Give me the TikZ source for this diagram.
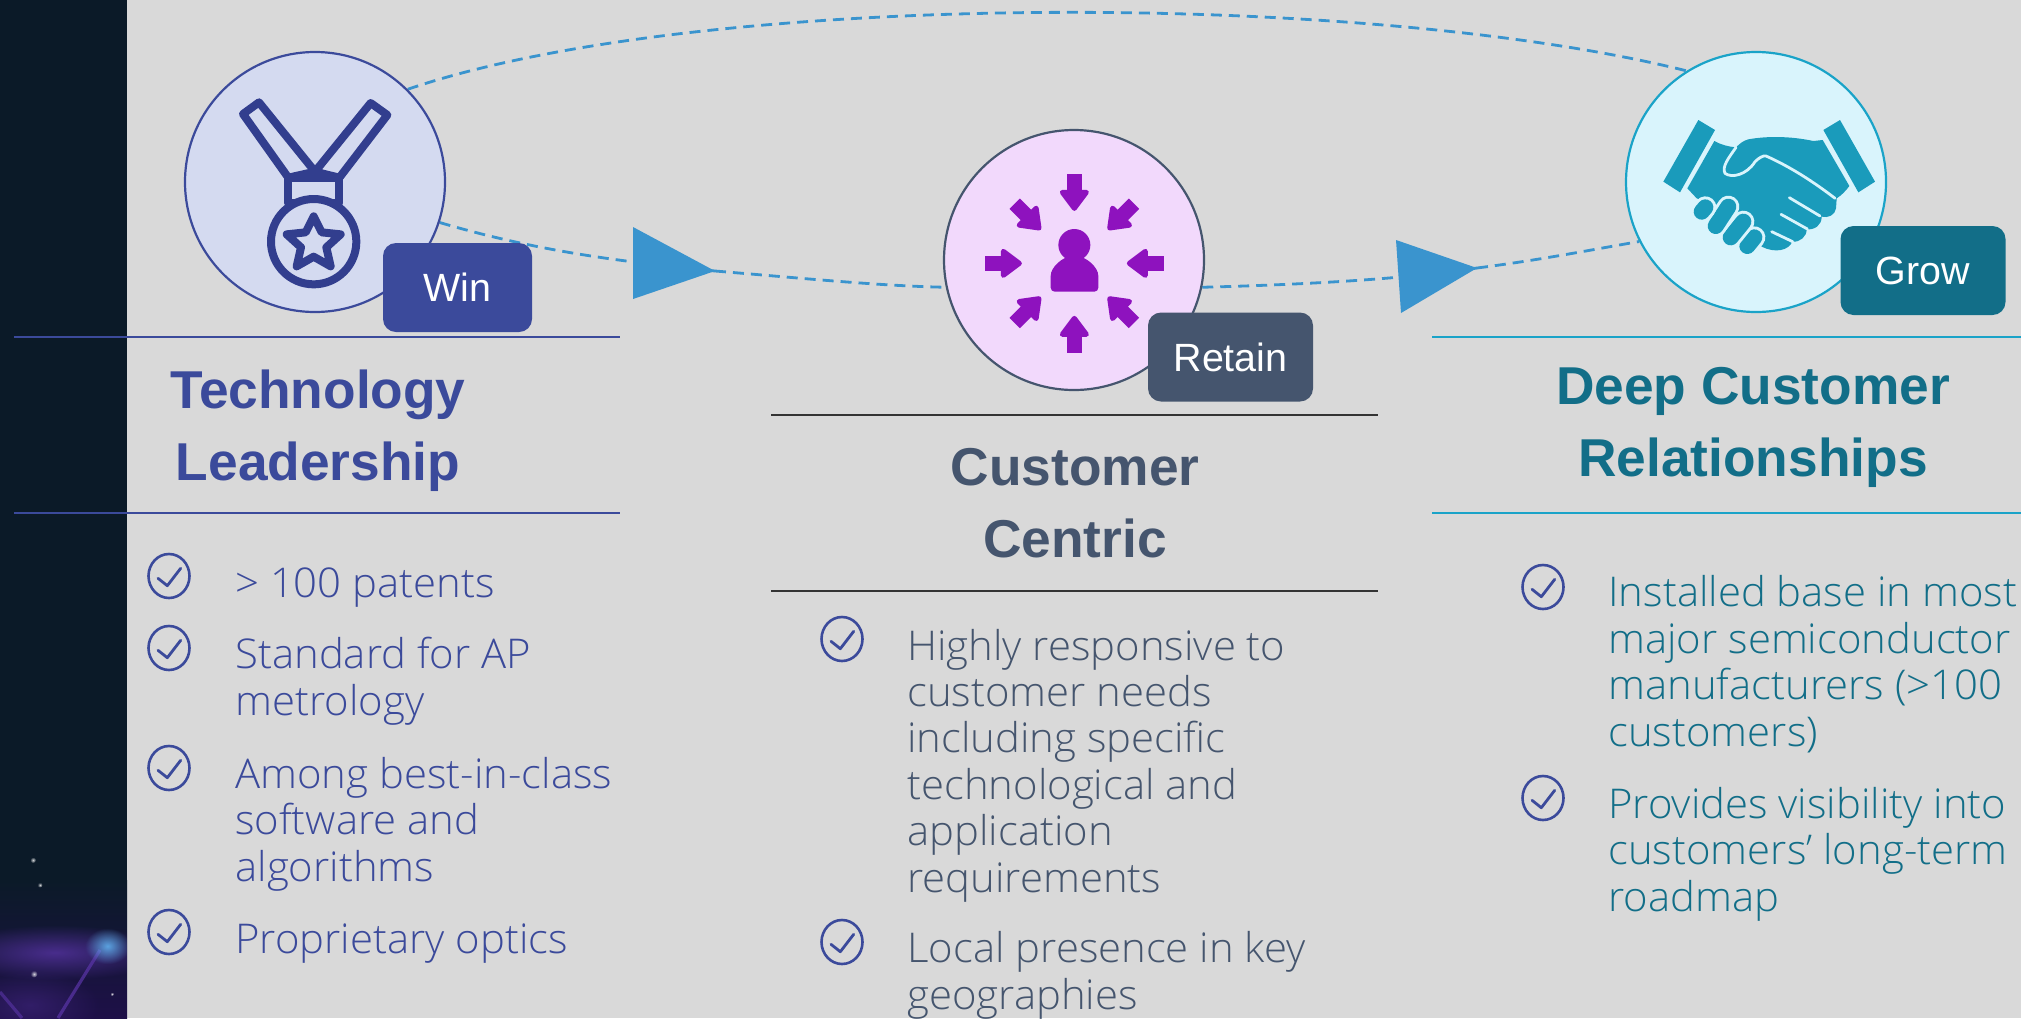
\documentclass[tikz,border=0pt]{standalone}
\usepackage{fontspec}
\setmainfont{Liberation Sans}
\newfontfamily\bodyf{Open Sans Light}[FakeStretch=1.02]
\usetikzlibrary{backgrounds,fadings,shapes.geometric}
\tikzfading[name=softblob,inner color=transparent!0,outer color=transparent!100]
\definecolor{bg}{HTML}{D9D9D9}
\definecolor{side}{HTML}{0B1A28}
\definecolor{winc}{HTML}{3B4A9B}
\definecolor{winf}{HTML}{D4DAF0}
\definecolor{wini}{HTML}{323E8E}
\definecolor{retc}{HTML}{45556E}
\definecolor{retf}{HTML}{F2D9FC}
\definecolor{reti}{HTML}{8E12BE}
\definecolor{groc}{HTML}{126E88}
\definecolor{grof}{HTML}{D9F4FC}
\definecolor{grol}{HTML}{1AA3C8}
\definecolor{groi}{HTML}{1A9BBB}
\definecolor{flow}{HTML}{3A94CE}
\definecolor{neb}{HTML}{5A35A8}
\definecolor{nebd}{HTML}{1E1048}
\tikzset{
 disc/.style={circle,minimum size=130pt,inner sep=0pt,line width=1.1pt},
 badge/.style={rounded corners=6.5pt,inner sep=0pt,minimum height=44.5pt,text=white,font=\fontsize{19.7}{22}\selectfont},
 heading/.style={align=center,inner sep=0pt,anchor=base,font=\bfseries\fontsize{26.65}{36}\selectfont},
 body/.style={align=left,inner sep=0pt,anchor=base west,font=\bodyf\fontsize{20.5}{23.2}\selectfont},
 rule/.style={line width=0.6pt},
 dashline/.style={flow,line width=1.4pt,dash pattern=on 5.5pt off 3.5pt},
 tick/.style={winc,line width=1.4pt,line cap=round,line join=round},
 zoomed/.style={x=0.16667pt,y=-0.16667pt},
}
\newcommand{\tickmark}[3]{%
 \node[draw=winc,line width=1.3pt,ellipse,inner sep=0pt,minimum width=20.5pt,minimum height=22pt] (#1) at (#2,#3) {};
 \draw[tick] (#2-11,#3+2.3) -- (#2-1.7,#3+9.7) -- (#2+11.7,#3-7.7);
}
\begin{document}
\begin{tikzpicture}[x=0.5pt,y=-0.5pt]
\useasboundingbox (0,0) rectangle (2021,1018);
% circles and badges
\node[disc,draw=winc,fill=winf] (c1) at (315,182) {};
\node[disc,draw=retc,fill=retf] (c2) at (1074,260) {};
\node[disc,draw=grol,fill=grof] (c3) at (1756,182) {};
% background layer
\begin{pgfonlayer}{background}
\fill[bg] (0,0) rectangle (2021,1018);
\begin{scope}
\clip (0,0) rectangle (127,1018);
\fill[side] (0,0) rectangle (127,880);
\shade[top color=side,bottom color=nebd] (0,880) rectangle (127,1018);
\fill[neb,path fading=softblob,opacity=.75] (-60,925) rectangle (170,980);
\fill[neb,path fading=softblob,opacity=.35] (-40,970) rectangle (100,1040);
\draw[neb,line width=1.6pt,opacity=.7] (100,950) -- (58,1018);
\draw[neb,line width=1.6pt,opacity=.6] (0,992) -- (22,1018);
\fill[blue!40!cyan!60!white,path fading=softblob,opacity=.8] (85,928) rectangle (130,964);
\foreach \pa/\pb/\pr in {33/860/3,40/885/2.5,34/974/3.5,112/994/2}
  \fill[white,path fading=softblob,opacity=.8] (\pa,\pb) circle[radius=\pr];
\end{scope}
\coordinate (t1a) at (633,227);
\coordinate (t1tip) at (715,271);
\coordinate (t1b) at (633,299);
\coordinate (t2a) at (1396,240);
\coordinate (t2tip) at (1477,268);
\coordinate (t2b) at (1401,313);
\draw[dashline] (c1.45) .. controls (698,-10) and (1362,-10) .. (c3.122);
\draw[dashline] (c1.-18) .. controls (550,255) and (640,263) .. (t1tip);
\draw[dashline] (t1tip) .. controls (800,278) and (880,286) .. (c2.192);
\draw[dashline] (c2.-12) .. controls (1290,285) and (1400,280) .. (t2tip);
\draw[dashline] (t2tip) .. controls (1540,260) and (1590,250) .. (c3.207);
\fill[flow] (t1a) -- (t1tip) -- (t1b) -- cycle;
\fill[flow] (t2a) -- (t2tip) -- (t2b) -- cycle;
\end{pgfonlayer}
\node[badge,fill=winc,minimum width=74.5pt] (b1) at (457.5,287.5) {Win};
\node[badge,fill=retc,minimum width=82.5pt] (b2) at (1230.5,357) {Retain};
\node[badge,fill=groc,minimum width=82.5pt] (b3) at (1923,270.5) {Grow};
% medal icon
\begin{scope}[shift={(130,30)},zoomed,wini,line width=4pt,line join=round]
\draw (339,252) -- (387,217) -- (555,425) -- (475,443) -- cycle;
\draw (772,255) -- (722,219) -- (555,425) -- (628,443) -- cycle;
\draw (475,443) rectangle (628,520);
\draw[fill=winf] (551,635) circle[radius=128];
\draw (551,559) -- (575,607) -- (632,613) -- (589,652) -- (602,709) -- (551,680) -- (500,709) -- (513,652) -- (470,613) -- (527,607) -- cycle;
\end{scope}
% person icon
\begin{scope}[shift={(900,110)},zoomed]
\fill[reti] (523,405) circle[radius=48];
\fill[reti,rounded corners=2pt] (452,545) -- (452,510) .. controls (452,470) and (490,440) .. (523,440) .. controls (556,440) and (595,470) .. (595,510) -- (595,545) -- cycle;
\foreach \a/\d in {0/0,90/0,180/0,270/0,45/15,135/15,225/15,315/15}{
 \begin{scope}[shift={(523,460)},rotate=\a]
 \fill[reti] (-22,{-268+\d}) rectangle (22,{-205+\d});
 \fill[reti,draw=reti,line width=2.5pt,line join=round]
  (-36,{-213+\d}) -- (36,{-213+\d}) -- (0,{-165+\d}) -- cycle;
 \end{scope}}
\end{scope}
% handshake icon
\begin{scope}[shift={(1600,30)},zoomed]
\fill[groi] (295,270) -- (345,300) -- (240,487) -- (190,455) -- cycle;
\fill[groi] (670,300) -- (720,270) -- (825,455) -- (775,487) -- cycle;
\fill[groi] (343,333) .. controls (365,345) and (385,350) .. (408,352) .. controls (420,340) and (430,332) .. (445,328) .. controls (500,318) and (570,318) .. (640,333) -- (668,330) -- (748,468) .. controls (735,485) and (725,495) .. (710,505) -- (708,535) .. controls (705,555) and (685,565) .. (665,560) .. controls (665,585) and (645,600) .. (620,598) .. controls (620,620) and (600,637) .. (577,635) .. controls (565,662) and (525,670) .. (485,650) -- (400,540) -- (290,505) -- (262,475) -- cycle;
\draw[grof,line width=1.4pt,line cap=round,line join=round] (408,352) .. controls (385,385) and (365,410) .. (375,430) .. controls (395,445) and (440,435) .. (465,395) .. controls (475,385) and (490,375) .. (498,378) .. controls (570,410) and (640,455) .. (705,505);
\draw[grof,line width=1.4pt,line cap=round] (568,503) -- (660,558);
\draw[grof,line width=1.4pt,line cap=round] (543,553) -- (622,597);
\draw[grof,line width=1.4pt,line cap=round] (515,605) -- (578,635);
\foreach \xa/\ya/\xb/\yb in {442/648/463/622,392/622/430/575,347/588/385/530,305/545/316/532}{
 \draw[grof,line width=11pt,line cap=round] (\xa,\ya) -- (\xb,\yb);
 \draw[groi,line width=8pt,line cap=round] (\xa,\ya) -- (\xb,\yb);
}
\end{scope}
% rules
\draw[rule,winc] (14,337) coordinate (r1a) -- (620,337) coordinate (r1b);
\draw[rule,winc] (14,513) coordinate (r2a) -- (620,513) coordinate (r2b);
\draw[rule,black!80] (771,415) coordinate (r3a) -- (1378,415) coordinate (r3b);
\draw[rule,black!80] (771,591) coordinate (r4a) -- (1378,591) coordinate (r4b);
\draw[rule,grol] (1432,337) coordinate (r5a) -- (2021,337) coordinate (r5b);
\draw[rule,grol] (1432,513) coordinate (r6a) -- (2021,513) coordinate (r6b);
% headings
\node[heading,text=winc] (h1) at (318,480) {Technology\\Leadership};
\node[heading,text=retc] (h2) at (1075,557) {Customer\\Centric};
\node[heading,text=groc] (h3) at (1753,476) {Deep Customer\\Relationships};
% bullets
\tickmark{k1}{169}{576}\tickmark{k2}{169}{648}\tickmark{k3}{169}{768}\tickmark{k4}{169}{932}
\tickmark{k5}{842}{639}\tickmark{k6}{842}{942}
\tickmark{k7}{1543}{587}\tickmark{k8}{1543}{798}
\node[body,text=winc] (t1) at (235,597) {> 100 patents};
\node[body,text=winc] (t2) at (235,715) {Standard for AP\\metrology};
\node[body,text=winc] (t3) at (235,881) {Among best-in-class\\software and\\algorithms};
\node[body,text=winc] (t4) at (235,953) {Proprietary optics};
\node[body,text=retc] (t5) at (907,892) {Highly responsive to\\customer needs\\including specific\\technological and\\application\\requirements};
\node[body,text=retc] (t6) at (907,1009) {Local presence in key\\geographies};
\node[body,text=groc] (t7) at (1608,746) {Installed base in most\\major semiconductor\\manufacturers (>100\\customers)};
\node[body,text=groc] (t8) at (1608,911) {Provides visibility into\\customers’ long-term\\roadmap};
\end{tikzpicture}
\end{document}
